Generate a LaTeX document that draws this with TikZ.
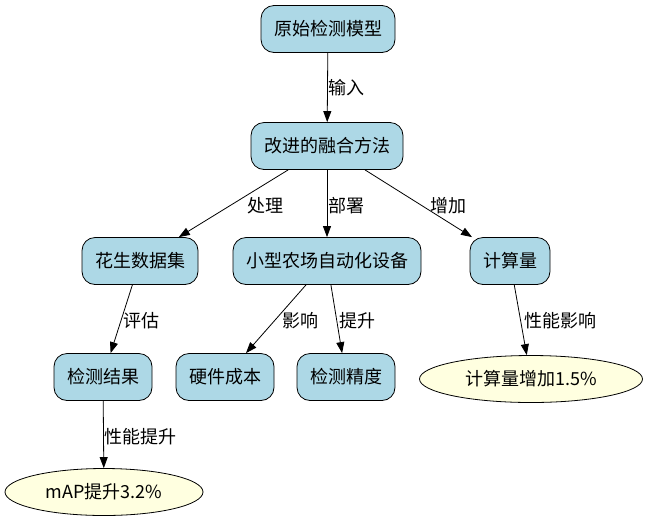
\documentclass[tikz,border=0pt]{standalone}
\usepackage{fontspec}
\setmainfont{Noto Sans CJK SC}
\usetikzlibrary{arrows.meta,shapes.geometric}
\definecolor{boxblue}{RGB}{173,216,230}
\definecolor{ovalyellow}{RGB}{255,255,224}

\begin{document}
\begin{tikzpicture}[
    x=1pt, y=-1pt,
    >={Triangle[length=11pt,width=8pt]},
    line width=0.8pt,
    font=\fontsize{18}{21}\selectfont,
    conceptnode/.style={draw, rounded corners=13pt, fill=boxblue, align=center, inner xsep=13pt, minimum height=47pt},
    resultnode/.style={draw, ellipse, fill=ovalyellow, inner sep=0pt, minimum height=47pt},
    edgelabel/.style={inner sep=0pt},
]
\useasboundingbox (0,0) rectangle (650,523);

\node[conceptnode] (model) at (328, 29) {原始检测模型};
\node[conceptnode] (fusion) at (327, 146) {改进的融合方法};

\node[conceptnode] (dataset) at (140, 261) {花生数据集};
\node[conceptnode] (device) at (327, 261) {小型农场自动化设备};
\node[conceptnode] (compute) at (510, 261) {计算量};

\node[conceptnode] (detresult) at (103, 377) {检测结果};
\node[conceptnode] (hwcost) at (225, 377) {硬件成本};
\node[conceptnode] (precision) at (346, 377) {检测精度};

\node[resultnode, minimum width=223pt] (computeup) at (531, 379) {计算量增加1.5\%};
\node[resultnode, minimum width=198pt] (mapup) at (104, 492) {mAP提升3.2\%};

\draw[->] (model) -- (fusion) node[edgelabel] at (346, 88) {输入};
\draw[->] (fusion) -- (dataset) node[edgelabel] at (265, 206) {处理};
\draw[->] (fusion) -- (device) node[edgelabel] at (346, 206) {部署};
\draw[->] (fusion) -- (compute) node[edgelabel] at (448, 206) {增加};
\draw[->] (dataset) -- (detresult) node[edgelabel] at (141, 321) {评估};
\draw[->] (device) -- (hwcost) node[edgelabel] at (300, 321) {影响};
\draw[->] (device) -- (precision) node[edgelabel] at (357, 321) {提升};
\draw[->] (compute) -- (computeup) node[edgelabel] at (560, 321) {性能影响};
\draw[->] (detresult) -- (mapup) node[edgelabel] at (140, 437) {性能提升};

\end{tikzpicture}
\end{document}
